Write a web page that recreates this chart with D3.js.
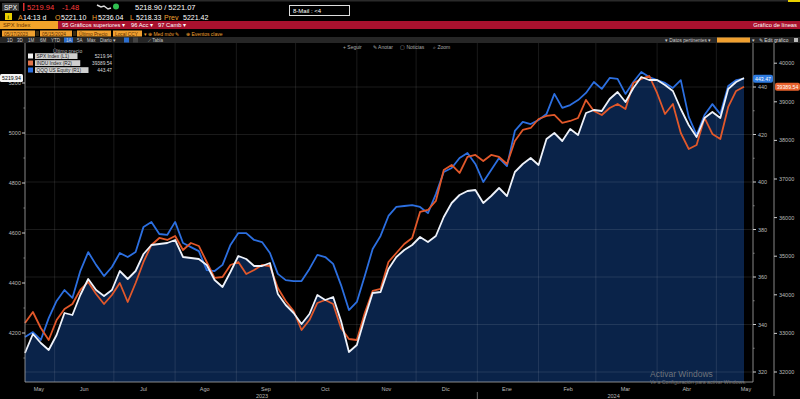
<!DOCTYPE html>
<html><head><meta charset="utf-8">
<script src="https://cdn.jsdelivr.net/npm/d3@7"></script>
<style>
html,body{margin:0;padding:0;background:#000;overflow:hidden;}
svg{display:block;font-family:"Liberation Sans",Arial,sans-serif;}
</style></head><body>
<svg id="c" width="800" height="399"></svg>
<script>
// ---------- DATA ----------
const dates = ["2023-05-17","2023-05-21","2023-05-25","2023-05-29","2023-06-02","2023-06-06","2023-06-10","2023-06-14","2023-06-18","2023-06-22","2023-06-26","2023-06-30","2023-07-04","2023-07-08","2023-07-12","2023-07-16","2023-07-20","2023-07-24","2023-07-28","2023-08-01","2023-08-05","2023-08-09","2023-08-13","2023-08-17","2023-08-21","2023-08-25","2023-08-29","2023-09-02","2023-09-06","2023-09-10","2023-09-14","2023-09-18","2023-09-22","2023-09-26","2023-09-30","2023-10-04","2023-10-08","2023-10-12","2023-10-16","2023-10-20","2023-10-24","2023-10-28","2023-11-01","2023-11-05","2023-11-09","2023-11-13","2023-11-17","2023-11-21","2023-11-25","2023-11-29","2023-12-03","2023-12-07","2023-12-11","2023-12-15","2023-12-19","2023-12-23","2023-12-27","2023-12-31","2024-01-04","2024-01-08","2024-01-12","2024-01-16","2024-01-20","2024-01-24","2024-01-28","2024-02-01","2024-02-05","2024-02-09","2024-02-13","2024-02-17","2024-02-21","2024-02-25","2024-02-29","2024-03-04","2024-03-08","2024-03-12","2024-03-16","2024-03-20","2024-03-24","2024-03-28","2024-04-01","2024-04-05","2024-04-09","2024-04-13","2024-04-17","2024-04-21","2024-04-25","2024-04-29","2024-05-03","2024-05-07","2024-05-11","2024-05-15"];

const spx = [4120,4196,4160,4132,4192,4280,4272,4352,4416,4372,4348,4372,4448,4416,4448,4516,4552,4556,4560,4572,4504,4500,4496,4472,4412,4384,4444,4508,4496,4468,4468,4480,4356,4312,4280,4236,4276,4352,4332,4344,4248,4124,4152,4260,4360,4364,4456,4504,4532,4552,4584,4564,4588,4664,4720,4752,4768,4772,4720,4748,4780,4748,4844,4876,4900,4872,4976,5000,4968,5016,4992,5080,5092,5088,5136,5164,5124,5180,5224,5212,5212,5192,5168,5096,5032,4984,5060,5084,5060,5176,5204,5219.94];

const indu = [33270,33555,33140,32829,33347,33632,33762,34125,34332,34021,33762,33995,34306,33814,34306,34850,35291,35472,35420,35524,35161,35342,35265,34850,34436,34461,34772,34850,34539,34643,34772,34746,34176,33840,33581,33088,33347,33788,33866,33762,33140,32855,32829,33529,34099,34151,34850,35083,35316,35472,36146,36197,36431,37234,37363,37156,37571,37622,37467,37622,37571,37389,37985,38270,38322,38555,38633,38659,38452,38503,38581,39048,38763,38659,38840,38944,38814,39488,39592,39669,39229,38685,38944,38192,37778,37882,38581,38167,38037,38866,39281,39389.54];

const qqq = [334.7,336.8,333.5,342.7,349.9,354.5,351.2,362.5,370.5,365.1,360.4,364.2,370.1,368.4,370.5,381.1,383.2,378.1,377.7,383.2,374.3,372.6,370.9,362.9,362.5,365.1,373.5,378.5,378.5,375.6,374.7,370.1,361.3,358.7,358.3,358.3,363.4,369.3,368.4,365.5,356.6,346.1,349.5,360.4,371.8,377.3,385.7,389.5,389.9,390.3,389.5,386.9,394.9,404.2,405.9,410.1,412.2,407.6,400.0,405.1,410.1,406.7,421.5,425.3,424.4,426.1,428.6,437.1,431.2,432.4,434.5,437.5,442.1,439.2,443.8,443.4,437.1,442.1,446.3,444.2,442.9,441.7,439.6,442.9,427.4,419.8,428.2,432.8,428.6,440.4,442.9,443.47];

const leftTicks = [4200,4400,4600,4800,5000,5200];
const leftMinor = [4100,4300,4500,4700,4900,5100];
const r1Ticks = [320,340,360,380,400,420,440];
const r1Minor = [330,350,370,390,410,430];
const r2Ticks = [32000,33000,34000,35000,36000,37000,38000,39000,40000];
const monthLabelDates = ["2023-05-24","2023-06-16","2023-07-16","2023-08-16","2023-09-16","2023-10-16","2023-11-16","2023-12-16","2024-01-16","2024-02-16","2024-03-16","2024-04-16","2024-05-16"];
const monthNames = ["May","Jun","Jul","Ago","Sep","Oct","Nov","Dic","Ene","Feb","Mar","Abr","May"];
const yearLabels = [["2023-09-14","2023"],["2024-03-10","2024"]];
const legendNames = ["SPX Index (L1)","INDU Index (R2)","QQQ US Equity (R1)"];
const legendValues = ["5219.94","39389.54","443.47"];

// ---------- SETUP ----------
const parse = d3.timeParse("%Y-%m-%d");
const data = dates.map((d,i)=>({date:parse(d), spx:spx[i], indu:indu[i], qqq:qqq[i]}));
const svg = d3.select("#c");
const YT = 43, YB = 382, XL = 25, XR = 753;
const x = d3.scaleTime().domain([data[0].date, data[data.length-1].date]).range([25,744]);
const yL = d3.scaleLinear().domain([4004,5332]).range([YB,50]);
const yR1 = d3.scaleLinear().domain([315.79,455.58]).range([YB,50]);
const yR2 = d3.scaleLinear().domain([31741,40342]).range([YB,50]);

function txt(xx,yy,s,o={}){
  return svg.append("text").attr("x",xx).attr("y",yy).text(s)
    .attr("font-size",o.size||7).attr("fill",o.fill||"#fff")
    .attr("text-anchor",o.anchor||"start").attr("font-weight",o.weight||"normal");
}
function rect(xx,yy,w,h,fill,o={}){
  return svg.append("rect").attr("x",xx).attr("y",yy).attr("width",w).attr("height",h)
    .attr("fill",fill).attr("rx",o.rx||0).attr("stroke",o.stroke||"none").attr("stroke-width",o.sw||1);
}
svg.append("rect").attr("width",800).attr("height",399).attr("fill","#000");

// ---------- HEADER ----------
rect(0,0,800,1.5,"#2a2a2a");
rect(788,0,12,2,"#e8d000");
rect(2,3,17,8,"#3a3a3a"); txt(4,9.8,"SPX",{size:6.5});
rect(23,3,1.5,8,"#e03030");
txt(27,10.3,"5219.94",{fill:"#ff3b3b",size:7.5});
txt(62,10.3,"-1.48",{fill:"#ff3b3b",size:7.5});
svg.append("path").attr("d","M97,5 L101,7 L104,6 L108,9 L111,8").attr("stroke","#ddd").attr("stroke-width",1.4).attr("fill","none");
svg.append("circle").attr("cx",116).attr("cy",6.5).attr("r",3).attr("fill","#2fbf4f");
txt(135,10.3,"5218.90 / 5221.07",{size:7.5});
rect(289.5,5.5,60,10,"#000",{stroke:"#ddd",sw:1});
txt(293,12.8,"8-Mail  :   <4",{size:6});

rect(5,13,7,7,"#e8d000"); txt(7.5,19,"i",{fill:"#000",size:6});
const row2 = [[18,"A","#f0a030"],[23,"14:13 d","#fff"],[55,"O","#f0a030"],[61,"5221.10","#fff"],[92,"H","#f0a030"],[98,"5236.04","#fff"],[130,"L","#f0a030"],[136,"5218.33","#fff"],[164,"Prev","#f0a030"],[183,"5221.42","#fff"]];
row2.forEach(r=>txt(r[0],19.5,r[1],{fill:r[2],size:7}));

rect(0,21,800,8,"#a8112e");
rect(0,21,58,8,"#f2a32a"); txt(3,27.3,"SPX Index",{fill:"#6a3400",size:5.8});
txt(62,27.3,"95 Gráficos superiores ▾",{size:5.8});
txt(131,27.3,"96 Acc ▾",{size:5.8});
txt(158,27.3,"97 Camb ▾",{size:5.8});
txt(797,27.3,"Gráfico de líneas",{size:5.8,anchor:"end"});

const boxes=[[2,33,"05/17/2023"],[40,32,"05/15/2024"],[77,34,"Último Precio"],[113,29,"Local CCY"]];
boxes.forEach(b=>{rect(b[0],30.5,b[1],6,"#f0a030"); txt(b[0]+2,35.5,b[2],{fill:"#5a2e00",size:4.8});});
rect(35.5,31,3.5,5,"#3a2a10"); rect(73,31,3.5,5,"#3a2a10");
txt(144,35.5,"▾",{fill:"#f0a030",size:5});
txt(148,35.5,"⊕ Med móv ✎",{fill:"#f0a030",size:5});
txt(186,35.5,"⊕ Eventos clave",{fill:"#f0a030",size:5});

rect(0,37,800,6,"#262626");
const tabs=[[7,"1D"],[17,"3D"],[28,"1M"],[40,"6M"],[51,"YTD"],[66,"1A"],[77,"5A"],[87,"Máx"],[100,"Diario ▾"]];
rect(64,37.5,9,5,"#2b6fd1");
tabs.forEach(t=>txt(t[0],41.8,t[1],{fill:"#ccc",size:4.5}));
rect(124,37.5,5,5,"#2b6fd1"); rect(133,37.5,5,5,"#444");
txt(148,41.8,"⟋  Tabla",{fill:"#ccc",size:4.5});
txt(665,41.8,"▾ Datos pertinentes ▾",{fill:"#ccc",size:4.8});
rect(717,37.5,33,5,"#f0a030");
txt(752,41.8,"▾",{fill:"#ccc",size:4.8});
txt(759,41.8,"✎ Edit gráfico",{fill:"#ddd",size:4.8});
rect(794,38,4,4,"#bbb");

// ---------- PLOT ----------
const monthTicks = x.ticks(d3.timeMonth.every(1)).filter(d=>x(d)>30);
const area = d3.area().x(d=>x(d.date)).y0(YB).y1(d=>yL(d.spx));
svg.append("path").datum(data).attr("d",area).attr("fill","#0a2349");

svg.append("g").selectAll("line").data(monthTicks).join("line")
  .attr("x1",d=>x(d)).attr("x2",d=>x(d)).attr("y1",YT).attr("y2",YB)
  .attr("stroke","#fff").attr("stroke-opacity",0.13).attr("stroke-width",0.8);
svg.append("g").selectAll("line").data(r1Ticks).join("line")
  .attr("x1",XL).attr("x2",XR).attr("y1",d=>yR1(d)).attr("y2",d=>yR1(d))
  .attr("stroke","#fff").attr("stroke-opacity",0.13).attr("stroke-width",0.8);

[[343,"+ Seguir"],[373,"✎ Anotar"],[400,"▢ Noticias"],[433,"⌕ Zoom"]].forEach(t=>txt(t[0],48.5,t[1],{fill:"#aaa",size:5}));

const mk = k => d3.line().x(d=>x(d.date)).y(d=> k==="spx"?yL(d.spx):(k==="indu"?yR2(d.indu):yR1(d.qqq)));
svg.append("path").datum(data).attr("d",mk("qqq")).attr("fill","none").attr("stroke","#2c6fe0").attr("stroke-width",1.8).attr("stroke-linejoin","round");
svg.append("path").datum(data).attr("d",mk("indu")).attr("fill","none").attr("stroke","#e2582a").attr("stroke-width",1.8).attr("stroke-linejoin","round");
svg.append("path").datum(data).attr("d",mk("spx")).attr("fill","none").attr("stroke","#eef2fa").attr("stroke-width",1.8).attr("stroke-linejoin","round");

svg.append("line").attr("x1",XL).attr("x2",XL).attr("y1",YT).attr("y2",YB).attr("stroke","#aaa").attr("stroke-width",0.8);
svg.append("line").attr("x1",XR).attr("x2",XR).attr("y1",YT).attr("y2",YB).attr("stroke","#aaa").attr("stroke-width",0.8);
svg.append("line").attr("x1",774).attr("x2",774).attr("y1",YT).attr("y2",396).attr("stroke","#aaa").attr("stroke-width",0.8);
svg.append("line").attr("x1",XL).attr("x2",XR).attr("y1",YB).attr("y2",YB).attr("stroke","#aaa").attr("stroke-width",0.8);

leftTicks.forEach(v=>{
  svg.append("line").attr("x1",22).attr("x2",25).attr("y1",yL(v)).attr("y2",yL(v)).attr("stroke","#ccc").attr("stroke-width",1);
  txt(21,yL(v)+2,String(v),{fill:"#bbb",size:5.5,anchor:"end"});
});
leftMinor.forEach(v=>svg.append("line").attr("x1",23.5).attr("x2",25).attr("y1",yL(v)).attr("y2",yL(v)).attr("stroke","#888"));
r1Ticks.forEach(v=>{
  svg.append("line").attr("x1",753).attr("x2",756).attr("y1",yR1(v)).attr("y2",yR1(v)).attr("stroke","#ccc").attr("stroke-width",1);
  txt(758,yR1(v)+2,String(v),{fill:"#bbb",size:5.5});
});
r1Minor.forEach(v=>svg.append("line").attr("x1",753).attr("x2",754.5).attr("y1",yR1(v)).attr("y2",yR1(v)).attr("stroke","#888"));
r2Ticks.forEach(v=>{
  svg.append("line").attr("x1",774).attr("x2",777).attr("y1",yR2(v)).attr("y2",yR2(v)).attr("stroke","#ccc").attr("stroke-width",1);
  txt(779,yR2(v)+2,String(v),{fill:"#bbb",size:5.5});
});

monthLabelDates.forEach((d,i)=>txt(x(parse(d)),391,monthNames[i],{fill:"#bbb",size:5.5,anchor:"middle"}));
yearLabels.forEach(y=>txt(x(parse(y[0])),398,y[1],{fill:"#bbb",size:5.5,anchor:"middle"}));
svg.append("line").attr("x1",x(parse("2024-01-01"))).attr("x2",x(parse("2024-01-01"))).attr("y1",392).attr("y2",399).attr("stroke","#888").attr("stroke-width",0.8);

txt(53,52.5,"Último precio",{fill:"#bbb",size:5});
const legCols=["#f2f2f2","#e2744a","#2c6fe0"];
legendNames.forEach((n,i)=>{
  const yy=53.5+i*7;
  rect(28,yy,5,5,legCols[i]);
  const w = n.length*2.75+4;
  rect(35,yy-0.3,w,5.8,"#cfcfcf");
  txt(36.5,yy+4.4,n,{fill:"#1a1a1a",size:4.8});
  txt(112,yy+4.4,legendValues[i],{fill:"#ddd",size:4.8,anchor:"end"});
});

const ls = yL(spx[spx.length-1]);
rect(0,ls-4,23,8,"#f4f4f4",{rx:1.5}); txt(11.5,ls+2,"5219.94",{fill:"#000",size:5.2,anchor:"middle"});
const lq = yR1(qqq[qqq.length-1]);
rect(753,lq-4,20,8,"#2f7be0",{rx:2}); txt(763,lq+2,"443.47",{fill:"#fff",size:5.2,anchor:"middle"});
const li = yR2(indu[indu.length-1]);
rect(775,li-4,25,8,"#e8612c",{rx:2}); txt(787.5,li+2,"39389.54",{fill:"#fff",size:5.2,anchor:"middle"});

// watermark
svg.append("text").attr("x",650).attr("y",377).text("Activar Windows").attr("font-size",8.5).attr("fill","#888").attr("fill-opacity",0.8);
svg.append("text").attr("x",650).attr("y",384.3).text("Ve a Configuración para activar Windows.").attr("font-size",5.2).attr("fill","#888").attr("fill-opacity",0.8);
</script>
</body></html>
